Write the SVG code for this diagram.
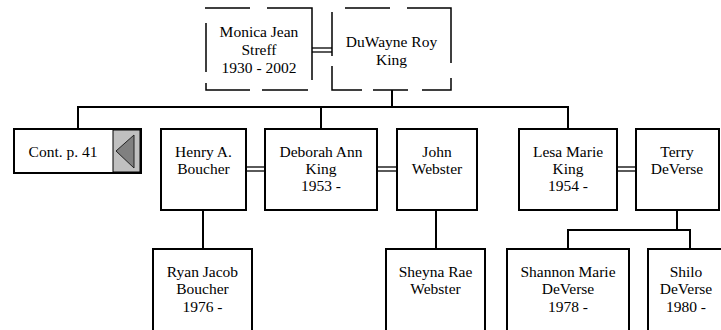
<svg xmlns="http://www.w3.org/2000/svg" width="721" height="330" viewBox="0 0 721 330">
<style>
.box{fill:#fff;stroke:#000;stroke-width:2}
.dash{fill:none;stroke:#000;stroke-width:1.5}
.ln{fill:none;stroke:#000;stroke-width:2}
.dbl{fill:none;stroke:#000;stroke-width:1.3}
text{font-size:15.5px;fill:#000;text-anchor:middle}
</style>
<rect width="721" height="330" fill="#fff"/>
<g id="connectors">
<line class="dbl" x1="312" y1="48" x2="332" y2="48"/>
<line class="dbl" x1="312" y1="52" x2="332" y2="52"/>
<polyline class="ln" points="392,90 392,107"/>
<polyline class="ln" points="78,129 78,107 568,107 568,129"/>
<line class="ln" x1="321" y1="107" x2="321" y2="129"/>
<line class="dbl" x1="246" y1="167" x2="265" y2="167"/>
<line class="dbl" x1="246" y1="171" x2="265" y2="171"/>
<line class="dbl" x1="377" y1="167" x2="397" y2="167"/>
<line class="dbl" x1="377" y1="171" x2="397" y2="171"/>
<line class="dbl" x1="617" y1="167" x2="636" y2="167"/>
<line class="dbl" x1="617" y1="171" x2="636" y2="171"/>
<line class="ln" x1="203" y1="210" x2="203" y2="249"/>
<line class="ln" x1="436" y1="210" x2="436" y2="249"/>
<polyline class="ln" points="677,210 677,230"/>
<polyline class="ln" points="568,249 568,230 690,230 690,249"/>
</g>
<g font-family="Liberation Serif, Times New Roman, serif">
<g id="monica">
<rect x="206" y="8" width="106" height="82" fill="#fff"/>
<path class="dash" d="M205,8H250M267,8H312V80M206,23V72M206,83V90H250M262,90H308"/>
<text x="259" y="37">Monica Jean</text>
<text x="259" y="55">Streff</text>
<text x="259" y="73">1930 - 2002</text>
</g>
<g id="duwayne">
<rect x="332" y="8" width="119" height="82" fill="#fff"/>
<path class="dash" d="M345,8H390M407,8H451V63M451,78V90H422M408,90H373M362,90H332V66M332,56V12"/>
<text x="391.5" y="47">DuWayne Roy</text>
<text x="391.5" y="65">King</text>
</g>
<g id="cont">
<rect class="box" x="14" y="129" width="127" height="44"/>
<rect x="113" y="130" width="27" height="42" fill="#c0c0c0" stroke="#000" stroke-width="1"/>
<polygon points="116,151 134,135 134,168" fill="#808080" stroke="#222" stroke-width="1"/>
<text x="63" y="157">Cont. p. 41</text>
</g>
<g id="henry">
<rect class="box" x="161" y="129" width="85" height="81"/>
<text x="203.5" y="157">Henry A.</text>
<text x="203.5" y="174">Boucher</text>
</g>
<g id="deborah">
<rect class="box" x="265" y="129" width="112" height="81"/>
<text x="321" y="157">Deborah Ann</text>
<text x="321" y="174">King</text>
<text x="321" y="191">1953 -</text>
</g>
<g id="john">
<rect class="box" x="397" y="129" width="80" height="81"/>
<text x="437" y="157">John</text>
<text x="437" y="174">Webster</text>
</g>
<g id="lesa">
<rect class="box" x="519" y="129" width="98" height="81"/>
<text x="568" y="157">Lesa Marie</text>
<text x="568" y="174">King</text>
<text x="568" y="191">1954 -</text>
</g>
<g id="terry">
<rect class="box" x="636" y="129" width="83" height="81"/>
<text x="677" y="157">Terry</text>
<text x="677" y="174">DeVerse</text>
</g>
<g id="ryan">
<rect class="box" x="153" y="249" width="99" height="90"/>
<text x="202.5" y="277">Ryan Jacob</text>
<text x="202.5" y="294">Boucher</text>
<text x="202.5" y="312">1976 -</text>
</g>
<g id="sheyna">
<rect class="box" x="386" y="249" width="99" height="90"/>
<text x="435.5" y="277">Sheyna Rae</text>
<text x="435.5" y="294">Webster</text>
</g>
<g id="shannon">
<rect class="box" x="507" y="249" width="122" height="90"/>
<text x="568" y="277">Shannon Marie</text>
<text x="568" y="294">DeVerse</text>
<text x="568" y="312">1978 -</text>
</g>
<g id="shilo">
<rect class="box" x="648" y="249" width="85" height="90"/>
<text x="686" y="277">Shilo</text>
<text x="686" y="294">DeVerse</text>
<text x="686" y="312">1980 -</text>
</g>
</g>
</svg>
